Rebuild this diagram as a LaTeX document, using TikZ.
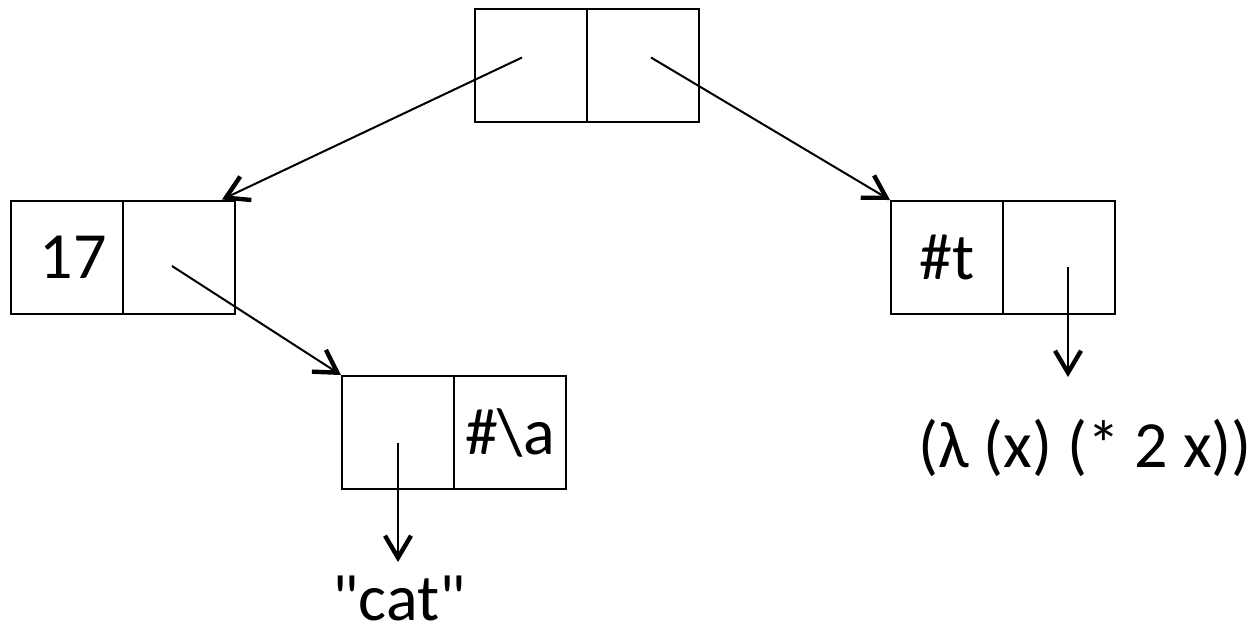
\documentclass[tikz,border=0pt]{standalone}
\usepackage{fontspec}
\setmainfont{Carlito}
\usepackage{tikz}
\usetikzlibrary{arrows.meta}
\tikzset{
every picture/.style={line width=1pt},
cell/.style={draw, rectangle, minimum width=56pt, minimum height=56.5pt, inner sep=0pt},
atom/.style={inner sep=0pt, anchor=base},
ptr/.style={-{Straight Barb[length=11pt, width=13pt, line width=2.2pt]}}
}

\begin{document}
\begin{tikzpicture}[x=0.5pt, y=-0.5pt, font=\fontsize{33}{39}\selectfont]
    \useasboundingbox (0,0) rectangle (1251,629);
    % the four pairs, car and cdr side by side
    \node[cell] (topcar) at (531,65.5) {};
    \node[cell] (topcdr) at (643,65.5) {};
    \node[cell] (leftcar) at (67,257) {\hspace{6pt}17};
    \node[cell] (leftcdr) at (179,257) {};
    \node[cell] (midcar) at (398,432.5) {};
    \node[cell] (midcdr) at (510,432.5) {\#\textbackslash a};
    \node[cell] (rightcar) at (947,257.5) {\#t};
    \node[cell] (rightcdr) at (1059,257.5) {};
    % atoms
    \node[atom] (lam) at (1085,467) {(λ (x) (* 2 x))};
    \node[atom] (cat) at (399,620) {\textquotedbl cat\textquotedbl};
    % pointers
    \draw[ptr] ([shift={(-4.5pt,4pt)}]topcar.center) -- ([xshift=-7pt]leftcdr.north east);
    \draw[ptr] ([shift={(4pt,4pt)}]topcdr.center) -- (rightcar.north west);
    \draw[ptr] ([shift={(-3.5pt,-4.5pt)}]leftcdr.center) -- (midcar.north west);
    \draw[ptr] ([shift={(4.5pt,-4.5pt)}]rightcdr.center) -- ([xshift=4.5pt]rightcdr.center |- 0,377);
    \draw[ptr] ([yshift=-5pt]midcar.center) -- ([yshift=-5pt]midcar.center |- 0,552);
\end{tikzpicture}
\end{document}
